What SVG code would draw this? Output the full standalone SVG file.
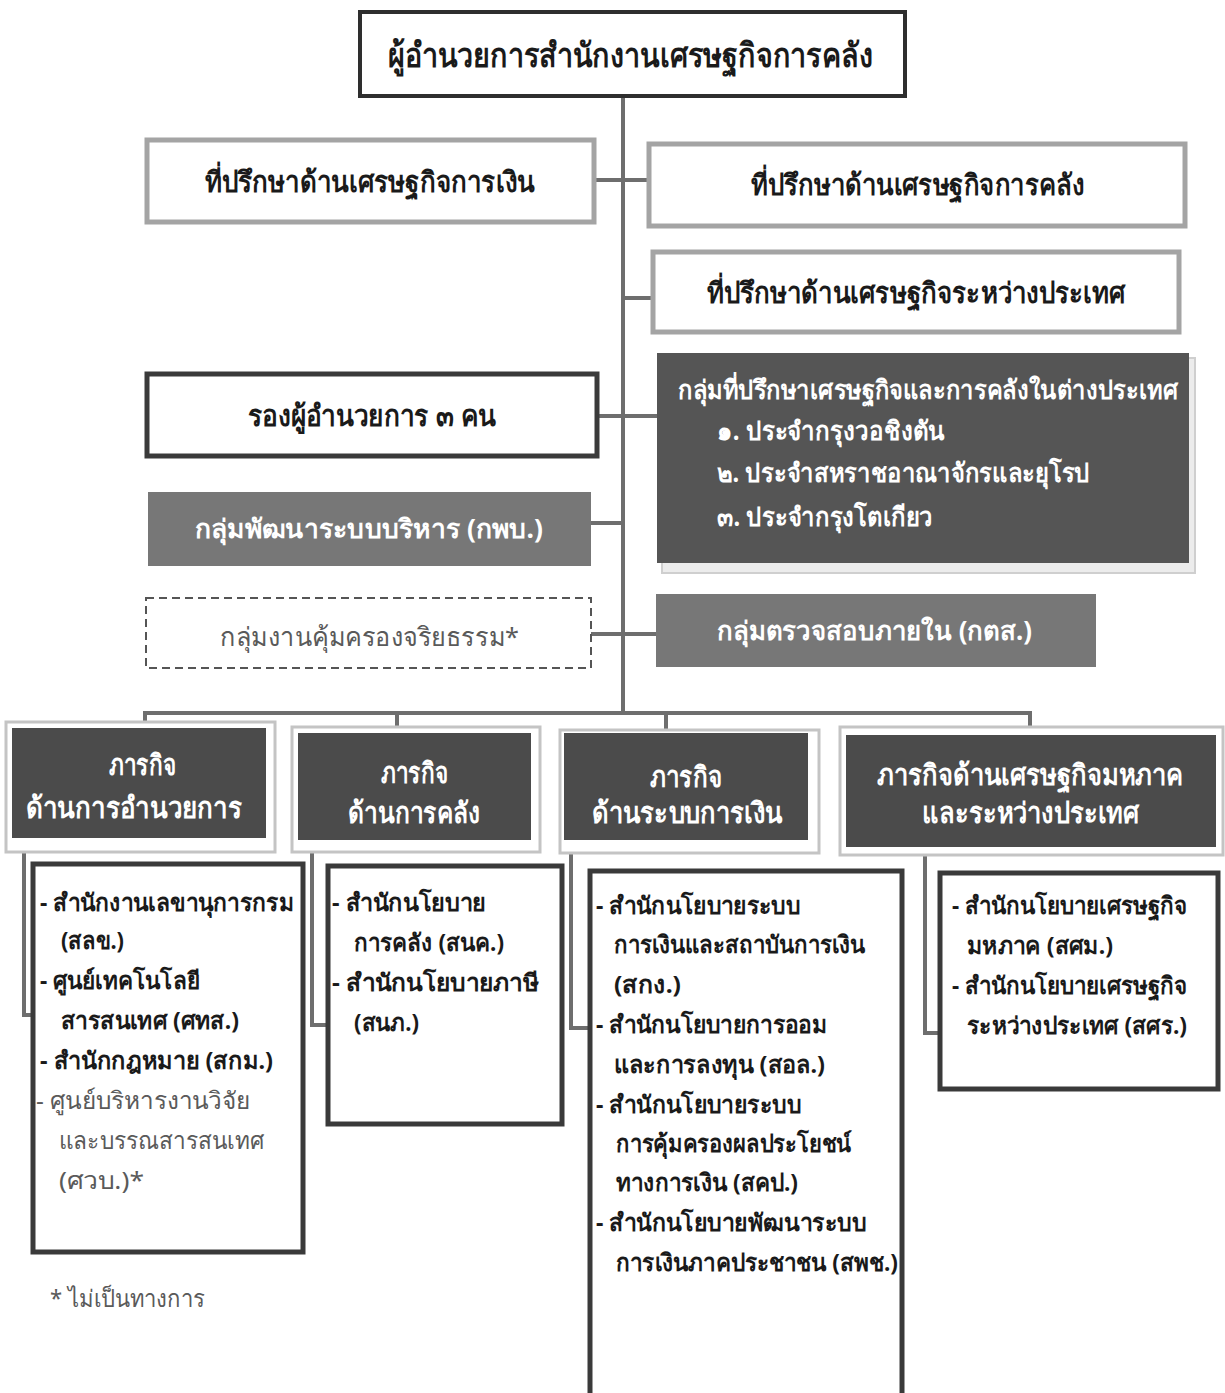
<svg xmlns="http://www.w3.org/2000/svg" width="1225" height="1393" viewBox="0 0 1225 1393">
<style>
text{font-family:"Noto Sans","DejaVu Sans",sans-serif;}
.t{font-weight:bold;fill:#1a1a1a;}
.w{font-weight:bold;fill:#ffffff;}
.g{font-weight:normal;fill:#5a5a5a;}
.big{font-size:34px;}
.adv{font-size:29px;}
.mis{font-size:29px;}
.m{font-size:26px;}
.l{font-size:24px;}
.topbox{fill:#fff;stroke:#2e2e2e;stroke-width:4;}
.advbox{fill:#fff;stroke:#a4a4a4;stroke-width:5;}
.darkframe{fill:#fff;stroke:#3a3a3a;stroke-width:5;}
.grey{fill:#777;}
.dark{fill:#4b4b4b;}
.outer{fill:#fff;stroke:#c4c4c4;stroke-width:3;}
.list{fill:#fff;stroke:#3a3a3a;stroke-width:5;}
.conn{fill:none;stroke:#6e6e6e;stroke-width:4;}
</style>
<rect width="1225" height="1393" fill="#fff"/>
<g id="connectors">
<line class="conn" x1="623" y1="96" x2="623" y2="713"/>
<polyline class="conn" points="145,722 145,713 1030,713 1030,727"/>
<line class="conn" x1="397" y1="713" x2="397" y2="727"/>
<line class="conn" x1="666" y1="713" x2="666" y2="730"/>
<line class="conn" x1="595" y1="180" x2="648" y2="180"/>
<line class="conn" x1="623" y1="298" x2="652" y2="298"/>
<line class="conn" x1="598" y1="416" x2="658" y2="416"/>
<line class="conn" x1="591" y1="523" x2="623" y2="523"/>
<line class="conn" x1="591" y1="634" x2="656" y2="634"/>
<polyline class="conn" points="24,852 24,1015 34,1015"/>
<polyline class="conn" points="312,852 312,1025 328,1025"/>
<polyline class="conn" points="571,853 571,1028 590,1028"/>
<polyline class="conn" points="925,855 925,1033 940,1033"/>
</g>
<g id="director">
<rect class="topbox" x="360" y="12" width="545" height="84"/>
<text class="t big" x="388" y="67" textLength="485" lengthAdjust="spacingAndGlyphs">ผู้อำนวยการสำนักงานเศรษฐกิจการคลัง</text>
</g>
<g id="adv-finance">
<rect class="advbox" x="147" y="140" width="447" height="82"/>
<text class="t adv" x="205" y="192" textLength="330" lengthAdjust="spacingAndGlyphs">ที่ปรึกษาด้านเศรษฐกิจการเงิน</text>
</g>
<g id="adv-fiscal">
<rect class="advbox" x="649" y="144" width="536" height="82"/>
<text class="t adv" x="751" y="195" textLength="333" lengthAdjust="spacingAndGlyphs">ที่ปรึกษาด้านเศรษฐกิจการคลัง</text>
</g>
<g id="adv-intl">
<rect class="advbox" x="653" y="252" width="526" height="80"/>
<text class="t adv" x="707" y="303" textLength="418" lengthAdjust="spacingAndGlyphs">ที่ปรึกษาด้านเศรษฐกิจระหว่างประเทศ</text>
</g>
<g id="deputy">
<rect class="darkframe" x="147" y="374" width="450" height="82"/>
<text class="t adv" x="248" y="426" textLength="248" lengthAdjust="spacingAndGlyphs">รองผู้อำนวยการ ๓ คน</text>
</g>
<g id="overseas">
<rect x="662" y="358" width="533" height="215" fill="#ececec" stroke="#cfcfcf" stroke-width="2"/>
<rect x="657" y="353" width="532" height="210" fill="#555"/>
<text class="w m" x="678" y="399" textLength="500" lengthAdjust="spacingAndGlyphs">กลุ่มที่ปรึกษาเศรษฐกิจและการคลังในต่างประเทศ</text>
<text class="w m" x="717" y="440" textLength="228" lengthAdjust="spacingAndGlyphs">๑. ประจำกรุงวอชิงตัน</text>
<text class="w m" x="717" y="482" textLength="373" lengthAdjust="spacingAndGlyphs">๒. ประจำสหราชอาณาจักรและยุโรป</text>
<text class="w m" x="717" y="526" textLength="216" lengthAdjust="spacingAndGlyphs">๓. ประจำกรุงโตเกียว</text>
</g>
<g id="admin-dev">
<rect class="grey" x="148" y="492" width="443" height="74"/>
<text class="w m" x="195" y="538" textLength="348" lengthAdjust="spacingAndGlyphs">กลุ่มพัฒนาระบบบริหาร (กพบ.)</text>
</g>
<g id="ethics">
<rect x="146" y="598" width="445" height="70" fill="#fff" stroke="#555" stroke-width="2" stroke-dasharray="8 5"/>
<text class="g m" x="220" y="646" textLength="299" lengthAdjust="spacingAndGlyphs">กลุ่มงานคุ้มครองจริยธรรม*</text>
</g>
<g id="audit">
<rect class="grey" x="656" y="594" width="440" height="73"/>
<text class="w m" x="717" y="640" textLength="315" lengthAdjust="spacingAndGlyphs">กลุ่มตรวจสอบภายใน (กตส.)</text>
</g>
<g id="mission-admin">
<rect class="outer" x="6" y="722" width="269" height="130"/>
<rect class="dark" x="12" y="728" width="254" height="110"/>
<text class="w mis" x="109" y="775" textLength="67" lengthAdjust="spacingAndGlyphs">ภารกิจ</text>
<text class="w mis" x="26" y="818" textLength="216" lengthAdjust="spacingAndGlyphs">ด้านการอำนวยการ</text>
</g>
<g id="mission-fiscal">
<rect class="outer" x="292" y="727" width="248" height="125"/>
<rect class="dark" x="298" y="733" width="233" height="107"/>
<text class="w mis" x="381" y="783" textLength="67" lengthAdjust="spacingAndGlyphs">ภารกิจ</text>
<text class="w mis" x="348" y="823" textLength="132" lengthAdjust="spacingAndGlyphs">ด้านการคลัง</text>
</g>
<g id="mission-financial">
<rect class="outer" x="560" y="730" width="259" height="123"/>
<rect class="dark" x="564" y="733" width="244" height="107"/>
<text class="w mis" x="650" y="787" textLength="72" lengthAdjust="spacingAndGlyphs">ภารกิจ</text>
<text class="w mis" x="592" y="823" textLength="191" lengthAdjust="spacingAndGlyphs">ด้านระบบการเงิน</text>
</g>
<g id="mission-macro">
<rect class="outer" x="840" y="727" width="383" height="128"/>
<rect class="dark" x="846" y="735" width="370" height="112"/>
<text class="w mis" x="877" y="785" textLength="306" lengthAdjust="spacingAndGlyphs">ภารกิจด้านเศรษฐกิจมหภาค</text>
<text class="w mis" x="922" y="823" textLength="217" lengthAdjust="spacingAndGlyphs">และระหว่างประเทศ</text>
</g>
<g id="list-admin">
<rect class="list" x="33" y="864" width="270" height="388"/>
<text class="t l" x="40" y="911" textLength="254" lengthAdjust="spacingAndGlyphs">- สำนักงานเลขานุการกรม</text>
<text class="t l" x="61" y="949" textLength="63" lengthAdjust="spacingAndGlyphs">(สลข.)</text>
<text class="t l" x="40" y="989" textLength="160" lengthAdjust="spacingAndGlyphs">- ศูนย์เทคโนโลยี</text>
<text class="t l" x="61" y="1029" textLength="178" lengthAdjust="spacingAndGlyphs">สารสนเทศ (ศทส.)</text>
<text class="t l" x="40" y="1069" textLength="233" lengthAdjust="spacingAndGlyphs">- สำนักกฎหมาย (สกม.)</text>
<text class="g l" x="36" y="1109" textLength="214" lengthAdjust="spacingAndGlyphs">- ศูนย์บริหารงานวิจัย</text>
<text class="g l" x="59" y="1149" textLength="205" lengthAdjust="spacingAndGlyphs">และบรรณสารสนเทศ</text>
<text class="g l" x="59" y="1189" textLength="85" lengthAdjust="spacingAndGlyphs">(ศวบ.)*</text>
</g>
<g id="list-fiscal">
<rect class="list" x="328" y="866" width="234" height="258"/>
<text class="t l" x="332" y="911" textLength="154" lengthAdjust="spacingAndGlyphs">- สำนักนโยบาย</text>
<text class="t l" x="354" y="951" textLength="150" lengthAdjust="spacingAndGlyphs">การคลัง (สนค.)</text>
<text class="t l" x="332" y="991" textLength="207" lengthAdjust="spacingAndGlyphs">- สำนักนโยบายภาษี</text>
<text class="t l" x="354" y="1031" textLength="65" lengthAdjust="spacingAndGlyphs">(สนภ.)</text>
</g>
<g id="list-financial">
<rect class="list" x="590" y="871" width="312" height="530"/>
<text class="t l" x="596" y="914" textLength="204" lengthAdjust="spacingAndGlyphs">- สำนักนโยบายระบบ</text>
<text class="t l" x="614" y="953" textLength="251" lengthAdjust="spacingAndGlyphs">การเงินและสถาบันการเงิน</text>
<text class="t l" x="614" y="993" textLength="67" lengthAdjust="spacingAndGlyphs">(สกง.)</text>
<text class="t l" x="596" y="1033" textLength="231" lengthAdjust="spacingAndGlyphs">- สำนักนโยบายการออม</text>
<text class="t l" x="614" y="1073" textLength="211" lengthAdjust="spacingAndGlyphs">และการลงทุน (สอล.)</text>
<text class="t l" x="596" y="1113" textLength="205" lengthAdjust="spacingAndGlyphs">- สำนักนโยบายระบบ</text>
<text class="t l" x="616" y="1152" textLength="235" lengthAdjust="spacingAndGlyphs">การคุ้มครองผลประโยชน์</text>
<text class="t l" x="616" y="1191" textLength="182" lengthAdjust="spacingAndGlyphs">ทางการเงิน (สคป.)</text>
<text class="t l" x="596" y="1231" textLength="270" lengthAdjust="spacingAndGlyphs">- สำนักนโยบายพัฒนาระบบ</text>
<text class="t l" x="616" y="1271" textLength="282" lengthAdjust="spacingAndGlyphs">การเงินภาคประชาชน (สพช.)</text>
</g>
<g id="list-macro">
<rect class="list" x="940" y="873" width="278" height="216"/>
<text class="t l" x="952" y="914" textLength="235" lengthAdjust="spacingAndGlyphs">- สำนักนโยบายเศรษฐกิจ</text>
<text class="t l" x="967" y="954" textLength="146" lengthAdjust="spacingAndGlyphs">มหภาค (สศม.)</text>
<text class="t l" x="952" y="994" textLength="235" lengthAdjust="spacingAndGlyphs">- สำนักนโยบายเศรษฐกิจ</text>
<text class="t l" x="967" y="1034" textLength="220" lengthAdjust="spacingAndGlyphs">ระหว่างประเทศ (สศร.)</text>
</g>
<g id="footnote">
<text class="g l" x="50" y="1307" textLength="155" lengthAdjust="spacingAndGlyphs">* ไม่เป็นทางการ</text>
</g>
</svg>
